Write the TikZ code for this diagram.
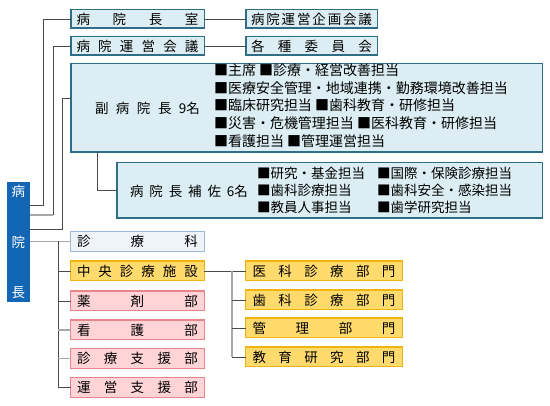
\documentclass[tikz,border=0pt]{standalone}
\usepackage{fontspec}
\newfontfamily\jp{Noto Sans CJK JP}
\usetikzlibrary{calc}
\definecolor{hdrfill}{HTML}{DCEEF4}
\definecolor{hdrline}{HTML}{2E6E87}
\definecolor{chofill}{HTML}{1366B4}
\definecolor{kafill}{HTML}{EEF4FA}
\definecolor{kaline}{HTML}{9CB9D9}
\definecolor{yfill}{HTML}{FFDB6E}
\definecolor{yline}{HTML}{EEB511}
\definecolor{pfill}{HTML}{FFD4D6}
\definecolor{pline}{HTML}{E8858A}
\definecolor{conn}{HTML}{4A4A4A}
\definecolor{connl}{HTML}{A8A8A8}
\newcommand{\spr}[2]{\makebox[#1pt]{#2}}
\begin{document}
\begin{tikzpicture}[x=1pt,y=-1pt,
  every node/.style={font=\jp\fontsize{13.5}{16}\selectfont, inner sep=0pt, outer sep=0pt},
  hdr/.style={rectangle, draw=hdrline, fill=hdrfill, line width=1.5pt},
  cho/.style={rectangle, fill=chofill, text=white},
  ka/.style={rectangle, draw=kaline, fill=kafill, line width=1.3pt},
  ybox/.style={rectangle, draw=yline, fill=yfill, line width=1.3pt},
  pbox/.style={rectangle, draw=pline, fill=pfill, line width=1.3pt},
  ln/.style={draw=conn, line width=0.9pt},
  lnl/.style={draw=connl, line width=1.1pt},
  lst/.style={align=left, anchor=west}
]
\useasboundingbox (0,0) rectangle (550,406);
\fill[white] (0,0) rectangle (550,406);

% top header boxes
\node[hdr, minimum width=133.5pt, minimum height=18.5pt] (hr) at (137.5,19) {\spr{122}{病\hfill 院\hfill 長\hfill 室}};
\node[hdr, minimum width=133.5pt, minimum height=18.5pt] (un) at (137.5,46) {\spr{122}{病\hfill 院\hfill 運\hfill 営\hfill 会\hfill 議}};
\node[hdr, minimum width=131.5pt, minimum height=18.5pt] (kikaku) at (311.5,19) {\spr{121}{病\hfill 院\hfill 運\hfill 営\hfill 企\hfill 画\hfill 会\hfill 議}};
\node[hdr, minimum width=131.5pt, minimum height=18.5pt] (iin) at (311.5,46) {\spr{121}{各\hfill 種\hfill 委\hfill 員\hfill 会}};

% vice directors
\node[hdr, minimum width=471.5pt, minimum height=88.5pt] (fuku) at (306.5,108) {};
\node (fukut) at (147.5,108) {\spr{105}{副\hfill 病\hfill 院\hfill 長\hfill 9名}};
\node[lst, font=\jp\fontsize{14}{17.75}\selectfont] (fukul) at (214,105.5) {■主席 ■診療・経営改善担当\\■医療安全管理・地域連携・勤務環境改善担当\\■臨床研究担当 ■歯科教育・研修担当\\■災害・危機管理担当 ■医科教育・研修担当\\■看護担当 ■管理運営担当};

% assistants
\node[hdr, minimum width=425.5pt, minimum height=55.5pt] (hosa) at (329.5,190.5) {};
\node (hosat) at (189,191) {\spr{118}{病\hfill 院\hfill 長\hfill 補\hfill 佐\hfill 6名}};
\node[lst, font=\jp\fontsize{13.5}{17}\selectfont] (hosal1) at (257,190) {■研究・基金担当\\■歯科診療担当\\■教員人事担当};
\node[lst, font=\jp\fontsize{13.5}{17}\selectfont] (hosal2) at (377,190) {■国際・保険診療担当\\■歯科安全・感染担当\\■歯学研究担当};

% director
\node[cho, minimum width=23pt, minimum height=120pt] (inchou) at (18.5,242) {\parbox[c][112pt][s]{16pt}{\centering 病\par\vfill 院\par\vfill 長}};

% lower boxes
\node[ka, minimum width=133.7pt, minimum height=19.7pt] (shinryouka) at (137.5,241.5) {\spr{121}{診\hfill 療\hfill 科}};
\node[ybox, minimum width=133.7pt, minimum height=19.7pt] (chuo) at (137.5,271) {\spr{121}{中\hfill 央\hfill 診\hfill 療\hfill 施\hfill 設}};
\node[pbox, minimum width=133.7pt, minimum height=19.7pt] (yakuzai) at (137.5,301) {\spr{121}{薬\hfill 剤\hfill 部}};
\node[pbox, minimum width=133.7pt, minimum height=19.7pt] (kango) at (137.5,330) {\spr{121}{看\hfill 護\hfill 部}};
\node[pbox, minimum width=133.7pt, minimum height=19.7pt] (shien) at (137.5,358.5) {\spr{121}{診\hfill 療\hfill 支\hfill 援\hfill 部}};
\node[pbox, minimum width=133.7pt, minimum height=19.7pt] (unei) at (137.5,387.5) {\spr{121}{運\hfill 営\hfill 支\hfill 援\hfill 部}};

% central facility divisions
\node[ybox, minimum width=156.7pt, minimum height=19.7pt] (y1) at (324,271) {\spr{143}{医\hfill 科\hfill 診\hfill 療\hfill 部\hfill 門}};
\node[ybox, minimum width=156.7pt, minimum height=19.7pt] (y2) at (324,300) {\spr{143}{歯\hfill 科\hfill 診\hfill 療\hfill 部\hfill 門}};
\node[ybox, minimum width=156.7pt, minimum height=19.7pt] (y3) at (324,328) {\spr{143}{管\hfill 理\hfill 部\hfill 門}};
\node[ybox, minimum width=156.7pt, minimum height=19.7pt] (y4) at (324,357) {\spr{143}{教\hfill 育\hfill 研\hfill 究\hfill 部\hfill 門}};

% trunk coordinates
\coordinate (t1) at (43,0);
\coordinate (t2) at (53,0);
\coordinate (t3) at (62,0);
\coordinate (t4) at (58,0);
\coordinate (t6) at (232,0);
\coordinate (fk) at ([yshift=10pt]fuku.west);
\coordinate (s1) at ([yshift=-23pt]inchou.north east);
\coordinate (s2) at ([yshift=-33pt]inchou.north east);
\coordinate (s3) at ([yshift=-47pt]inchou.north east);

% connectors from director
\draw[ln] (s1) -| (hr.west -| t1) -- (hr.west);
\draw[lnl] (s2) -- (s2 -| t2);
\draw[ln] (s2 -| t2) |- (un.west);
\draw[ln] (s3) -| (fk -| t3) -- (fk);
\draw[lnl] (inchou.east |- shinryouka.west) -- (shinryouka.west);
\draw[ln] (shinryouka.west -| t4) -- (unei.west -| t4);
\draw[ln] (chuo.west -| t4) -- (chuo.west);
\draw[ln] (yakuzai.west -| t4) -- (yakuzai.west);
\draw[lnl] (kango.west -| t4) -- (kango.west);
\draw[lnl] (shien.west -| t4) -- (shien.west);
\draw[ln] (unei.west -| t4) -- (unei.west);

% other connectors
\draw[ln] (hr.east) -- (kikaku.west);
\draw[ln] (un.east) -- (iin.west);
\draw[ln] ([xshift=27pt]fuku.south west) |- (hosa.west);
\draw[ln] (chuo.east) -- (y1.west);
\draw[lnl] (y1.west -| t6) -- (y4.west -| t6);
\draw[ln] (y2.west -| t6) -- (y2.west);
\draw[ln] (y3.west -| t6) -- (y3.west);
\draw[ln] (y4.west -| t6) -- (y4.west);
\end{tikzpicture}
\end{document}
